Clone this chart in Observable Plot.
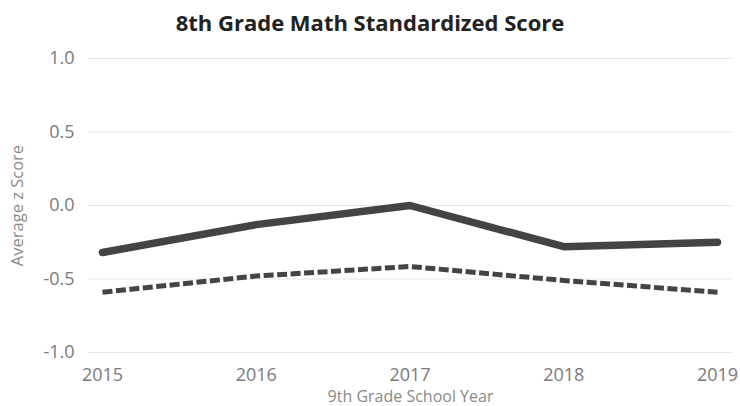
<!DOCTYPE html>
<html>
<head>
<meta charset="utf-8">
<script src="https://cdn.jsdelivr.net/npm/d3@7"></script>
<script src="https://cdn.jsdelivr.net/npm/@observablehq/plot@0.6"></script>
<style>
  html, body { margin: 0; padding: 0; background: #fff; }
  #title { width: 740px; height: 40px; line-height: 44px; text-align: center;
           font-family: "Open Sans", sans-serif; font-weight: 700; font-size: 22px; color: #222; }
</style>
</head>
<body>
<div id="title">8th Grade Math Standardized Score</div>
<div id="chart"></div>
<script>
const years = [2015, 2016, 2017, 2018, 2019];
const solidValues = [-0.32, -0.13, 0.0, -0.28, -0.25];
const dashedValues = [-0.59, -0.48, -0.415, -0.51, -0.59];
const yTicks = [-1.0, -0.5, 0.0, 0.5, 1.0];

const solid = years.map((year, i) => ({year, value: solidValues[i]}));
const dashed = years.map((year, i) => ({year, value: dashedValues[i]}));
const fmtY = d => d3.format(".1f")(d).replace("\u2212", "-");

const chart = Plot.plot({
  width: 740,
  height: 366,
  marginTop: 18,
  marginBottom: 54,
  marginLeft: 88,
  marginRight: 8,
  style: { fontFamily: "Open Sans, sans-serif", background: "#fff" },
  x: {
    type: "linear",
    domain: [2015, 2019],
    insetLeft: 14,
    insetRight: 15
  },
  y: {
    domain: [-1, 1]
  },
  marks: [
    Plot.ruleY(yTicks, {stroke: "#e6e6e6", strokeWidth: 1}),
    Plot.axisX({ticks: years, tickFormat: d => String(d), tickSize: 0, tickPadding: 16,
                fontSize: 18, fill: "#7a7a7a", label: null}),
    Plot.axisX({ticks: [], tickSize: 0, label: "9th Grade School Year", labelAnchor: "center",
                labelArrow: "none", labelOffset: 49, fontSize: 16, fill: "#8a8a8a"}),
    Plot.axisY({ticks: yTicks, tickFormat: fmtY,
                tickSize: 0, tickPadding: 14, fontSize: 18, fill: "#7a7a7a", label: null}),
    Plot.axisY({ticks: [], tickSize: 0, label: "Average z Score", labelAnchor: "center",
                labelArrow: "none", labelOffset: 77, fontSize: 16.5, fill: "#8a8a8a"}),
    Plot.line(dashed, {x: "year", y: "value", stroke: "#444", strokeWidth: 5,
                       strokeDasharray: "10,3.5", strokeLinecap: "butt", strokeLinejoin: "round"}),
    Plot.line(solid, {x: "year", y: "value", stroke: "#444", strokeWidth: 7.5,
                      strokeLinecap: "round", strokeLinejoin: "round"})
  ]
});
document.getElementById("chart").appendChild(chart);
</script>
</body>
</html>
